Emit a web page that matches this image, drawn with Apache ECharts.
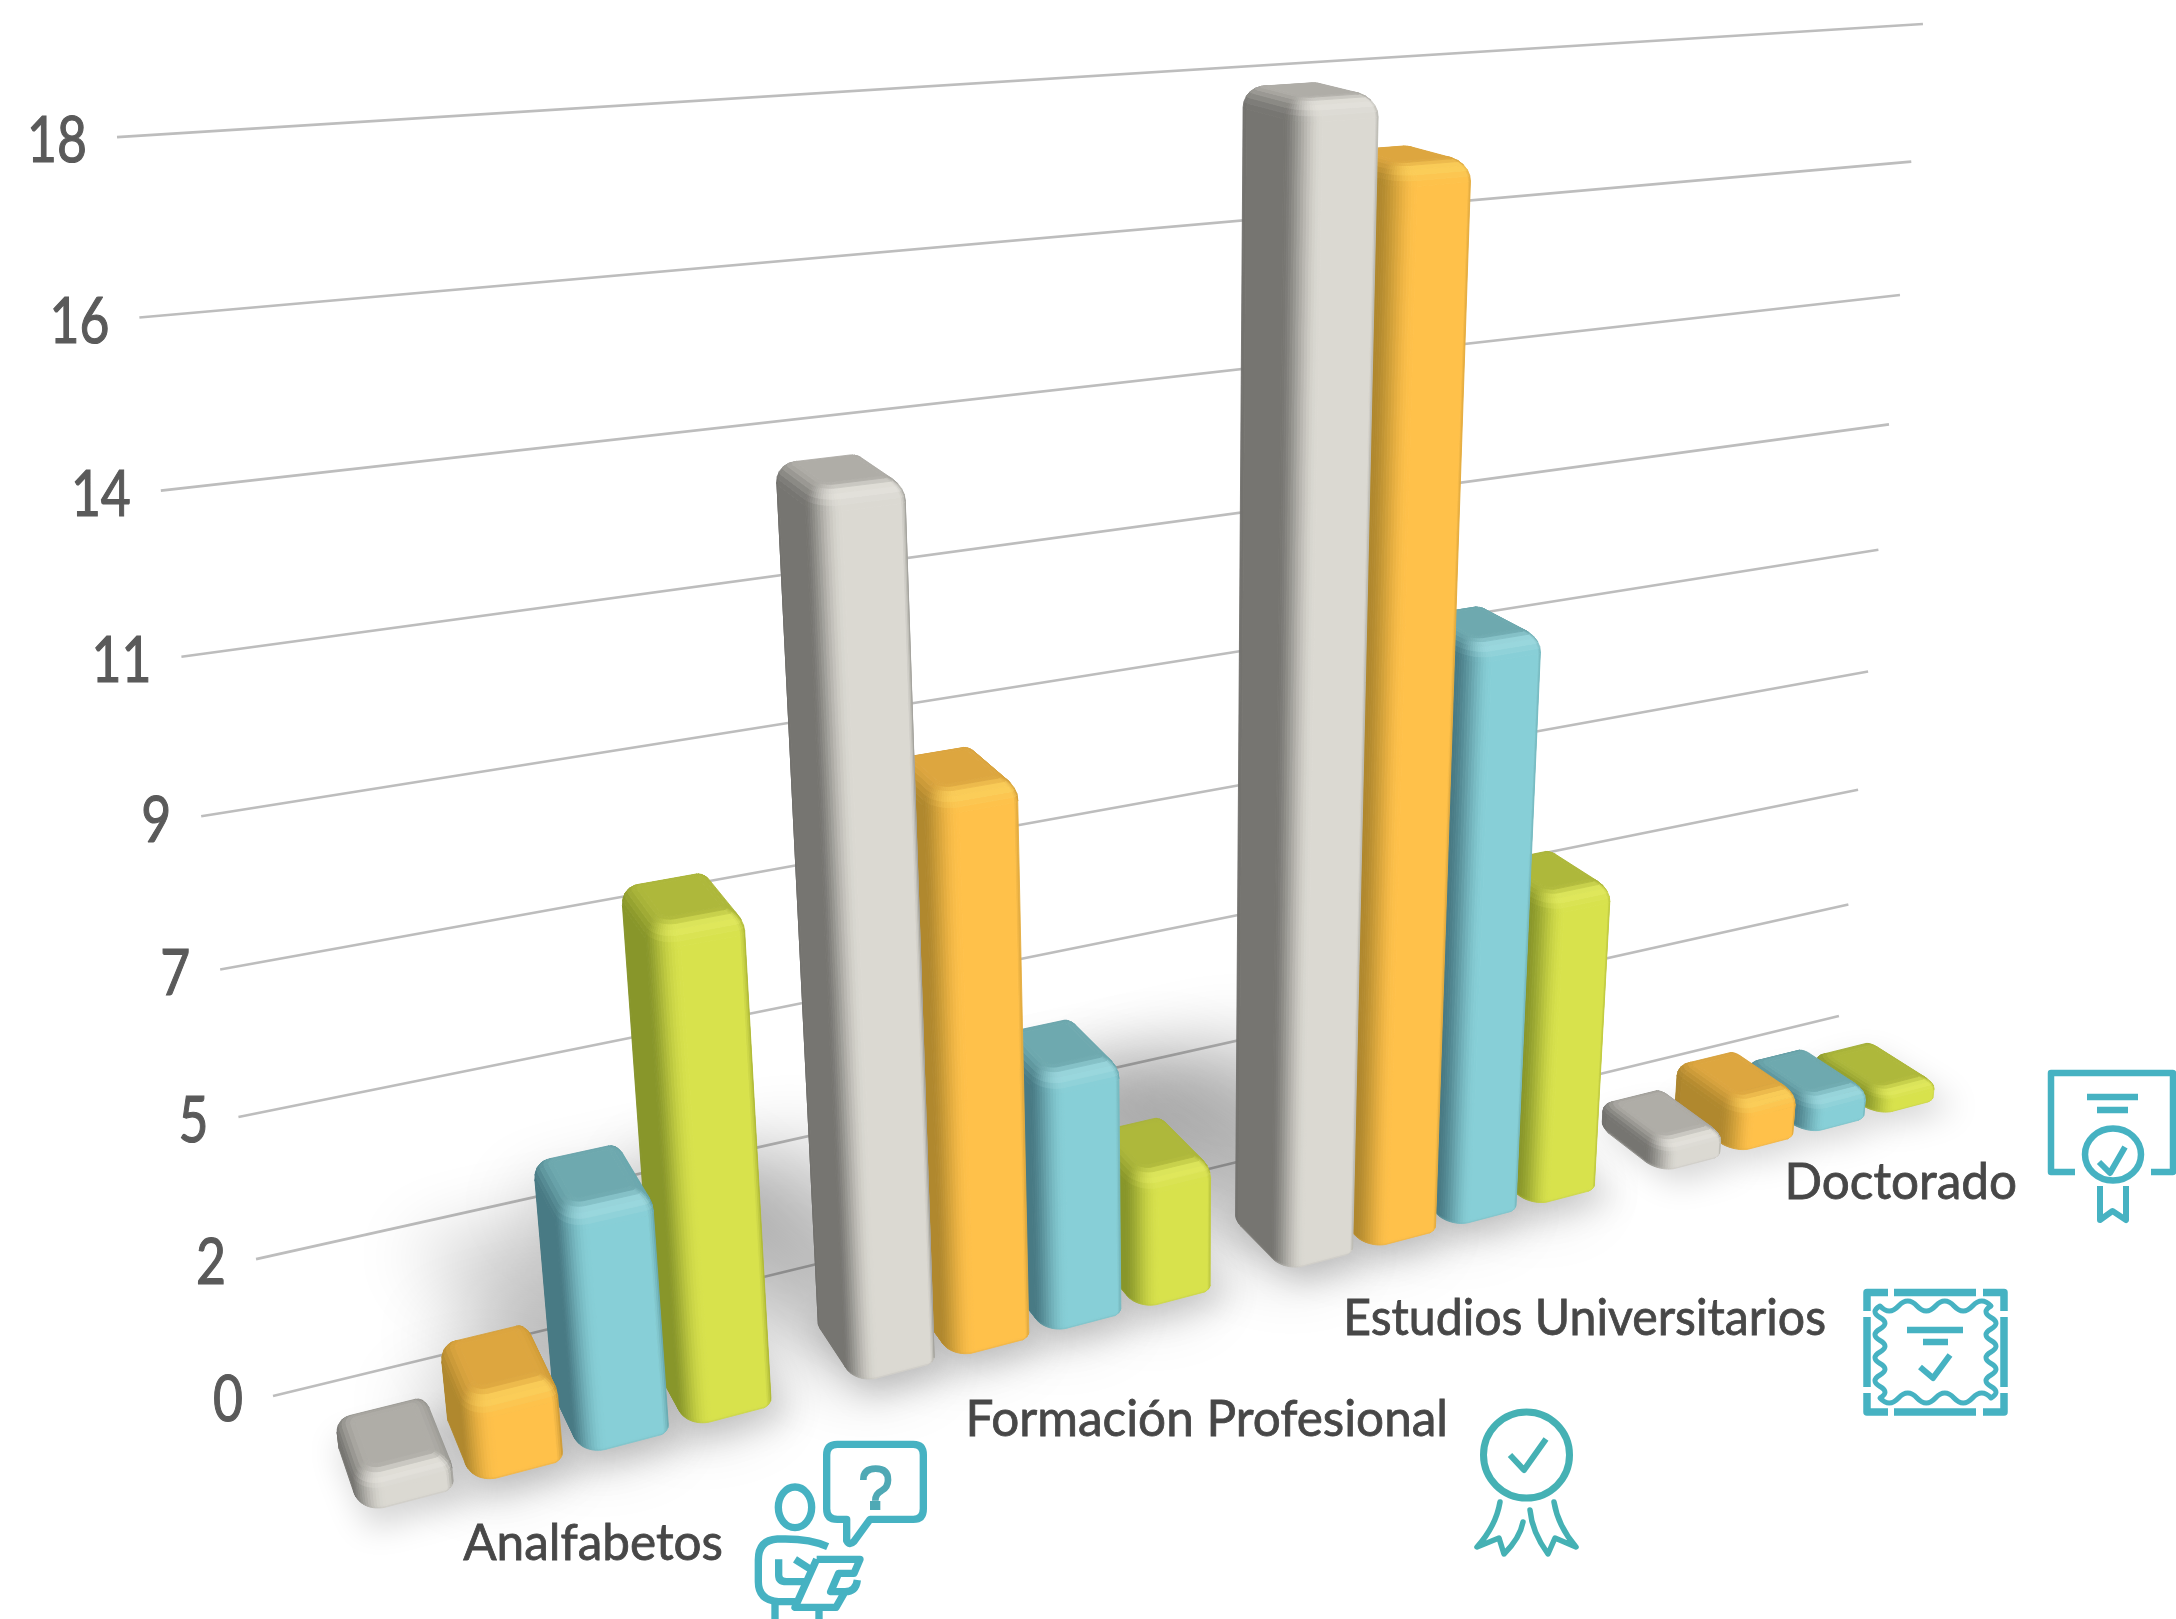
<!DOCTYPE html>
<html>
<head>
<meta charset="utf-8">
<style>html,body{margin:0;padding:0;background:#fff}#c{width:2176px;height:1619px}</style>
<script src="https://cdn.jsdelivr.net/npm/echarts@6/dist/echarts.min.js"></script>
</head>
<body>
<div id="c"></div>
<script>
// ---- data ----
const categories = ['Analfabetos', 'Formación Profesional', 'Estudios Universitarios', 'Doctorado'];
const seriesGrey   = [0.53, 13.65, 18.3, 0.54];
const seriesOrange = [1.34, 9.08, 17.3, 0.96];
const seriesTeal   = [3.9, 4.35, 10.0, 0.66];
const seriesGreen  = [7.85, 2.3, 5.55, 0.43];
const tickValues = [0, 2.29, 4.58, 6.87, 9.16, 11.45, 13.74, 16.03, 18.32];
const tickLabels = ['0', '2', '5', '7', '9', '11', '14', '16', '18'];

// ---- layout and style ----
const W = 2176, H = 1619;
const O = [273, 1396], VX = [7318, -314], VY = [1184, 8749], VZ = [-252, -299];
const KA = 0.2858, KC = -0.14618;
const T0 = 0.0335, T1 = 0.0725;
const BAR_MARGIN = 0.087, BAR_PITCH = 0.2147, BAR_W = 0.182;
const catLabelRight = [723, 1448, 1826, 2017];
const catLabelBase = [1558, 1434, 1333, 1197];
const catLabelScale = [0.97, 0.97, 0.945, 0.97];
const LABEL_FONT = '"Lato"';
const ICON = '#46B2C2';
const palettes = [
  { front: [219, 217, 210], side: [118, 117, 113], top: [175, 173, 167], right: [150, 149, 144], hl: [236, 234, 228] },
  { front: [255, 193, 74],  side: [176, 136, 46],  top: [221, 166, 63],  right: [200, 150, 50],  hl: [255, 214, 96] },
  { front: [135, 207, 215], side: [72, 122, 132],  top: [110, 169, 175], right: [100, 165, 172], hl: [165, 224, 230] },
  { front: [216, 226, 76],  side: [136, 150, 42],  top: [174, 184, 59],  right: [170, 180, 50],  hl: [232, 240, 100] }
];

function proj(u, v, t) {
  const w = 1 + KA * u + KC * v - t;
  return [
    (O[0] + KA * u * VX[0] + KC * v * VY[0] - t * VZ[0]) / w,
    (O[1] + KA * u * VX[1] + KC * v * VY[1] - t * VZ[1]) / w
  ];
}

function area(pts) {
  let s = 0;
  for (let i = 0; i < pts.length; i++) {
    const a = pts[i], b = pts[(i + 1) % pts.length];
    s += a[0] * b[1] - b[0] * a[1];
  }
  return s / 2;
}

function shadeColor(pal, nu, nv, nt) {
  const wF = Math.pow(Math.max(nt, 0), 2), wL = Math.pow(Math.max(-nu, 0), 2);
  const wR = Math.pow(Math.max(nu, 0), 2), wB = Math.pow(Math.max(-nt, 0), 2);
  const wT = nv > 0 ? nv * nv : 0, wD = nv < 0 ? nv * nv : 0;
  const c = [0, 1, 2].map(i =>
    wF * pal.front[i] + wL * pal.side[i] + wR * pal.right[i] + wB * pal.side[i] + wT * pal.top[i] + wD * pal.front[i] * 0.86);
  const h = nt > 0 && nv > 0 ? Math.min(1, 4 * nt * nt * nv * nv) * 0.75 : 0;
  const out = c.map((x, i) => Math.round(x + (pal.hl[i] - x) * h));
  return 'rgb(' + out.join(',') + ')';
}

// corner order: front-right, back-right, back-left, front-left
const CORNER_R = [[0.004, 0.004], [0.004, 0.005], [0.006, 0.006], [0.0125, 0.0095]];
const CORNER_SEG = [4, 4, 5, 14];
function ring(u0, u1, t0, t1, insU, insT, shrink) {
  const a = u0 + insU, b = u1 - insU, c = t0 + insT, d = t1 - insT;
  const pts = [];
  CORNER_R.forEach((r, k) => {
    const ru = r[0] * shrink, rt = r[1] * shrink;
    const ct = [[b - ru, d - rt], [b - ru, c + rt], [a + ru, c + rt], [a + ru, d - rt]][k];
    const seg = CORNER_SEG[k];
    for (let s = 0; s <= seg; s++) {
      const ph = (k + s / seg) * Math.PI / 2;
      const su = Math.sin(ph), co = Math.cos(ph);
      pts.push({ u: ct[0] + ru * su, t: ct[1] + rt * co, nu: su, nt: co });
    }
  });
  return pts;
}

function barShape(u0, u1, top, pal) {
  const bv = Math.min(0.017, top * 0.42);
  const bb = Math.min(0.005, top * 0.2);
  const IU = 0.0085, IT = 0.0075;
  const levels = [];
  levels.push({ f: 0.16, v: 0, th: -0.8 });
  levels.push({ f: 0.04, v: bb * 0.6, th: -0.4 });
  levels.push({ f: 0, v: bb, th: 0 });
  const STEPS = 6;
  for (let i = 0; i <= STEPS; i++) {
    const th = i / STEPS * Math.PI / 2;
    levels.push({ f: 1 - Math.cos(th), v: top - bv + bv * Math.sin(th), th: th });
  }
  const rings = levels.map(l => ring(u0, u1, T0, T1, IU * l.f, IT * l.f, 1 - 0.6 * l.f));
  const children = [];
  for (let L = 0; L < levels.length - 1; L++) {
    const r0 = rings[L], r1 = rings[L + 1], v0 = levels[L].v, v1 = levels[L + 1].v;
    const th = (levels[L].th + levels[L + 1].th) / 2;
    const cs = Math.cos(th), sn = Math.sin(th);
    for (let i = 0; i < r0.length; i++) {
      const j = (i + 1) % r0.length;
      const pts = [proj(r0[i].u, v0, r0[i].t), proj(r0[j].u, v0, r0[j].t), proj(r1[j].u, v1, r1[j].t), proj(r1[i].u, v1, r1[i].t)];
      if (area(pts) >= 0) continue;
      const nu = (r0[i].nu + r0[j].nu) / 2, nt = (r0[i].nt + r0[j].nt) / 2;
      const col = shadeColor(pal, nu * cs, sn, nt * cs);
      children.push({ type: 'polygon', shape: { points: pts }, style: { fill: col, stroke: col, lineWidth: 0.9 } });
    }
  }
  const last = rings[rings.length - 1];
  const capCol = 'rgb(' + pal.top.join(',') + ')';
  children.push({ type: 'polygon', shape: { points: last.map(p => proj(p.u, top, p.t)) }, style: { fill: capCol, stroke: capCol, lineWidth: 0.9 } });
  return children;
}

function barRange(api, seriesIndex) {
  const p = api.coord([api.value(0), api.value(1)]);
  const band = api.size([1, 0])[0] / W;
  const uStart = p[0] / W - band / 2 + band * (BAR_MARGIN + BAR_PITCH * seriesIndex);
  return { u0: uStart, u1: uStart + band * BAR_W, top: 1 - p[1] / H };
}

function barSeries(name, values, seriesIndex) {
  return {
    type: 'custom', name: name, coordinateSystem: 'cartesian2d', silent: true, clip: false,
    z: 10 + (3 - seriesIndex), animation: false,
    encode: { x: 0, y: 1 },
    data: values.map((v, i) => [i, v]),
    renderItem(params, api) {
      const r = barRange(api, seriesIndex);
      return { type: 'group', children: barShape(r.u0, r.u1, r.top, palettes[seriesIndex]) };
    }
  };
}

function shadowSeries(values, seriesIndex) {
  const OFF = 4000;
  return {
    type: 'custom', coordinateSystem: 'cartesian2d', silent: true, clip: false, z: 3, animation: false,
    encode: { x: 0, y: 1 },
    data: values.map((v, i) => [i, v]),
    renderItem(params, api) {
      const r = barRange(api, seriesIndex);
      const val = api.value(1);
      const L = Math.min(0.12, val * 0.012), back = T0 - Math.min(0.12, val * 0.013);
      const wide = [[r.u0 - L, back], [r.u1 - L * 0.3, back], [r.u1, T1], [r.u0, T1]];
      const near = [[r.u0, T0], [r.u1 + 0.004, T0], [r.u1 + 0.006, T1 + 0.007], [r.u0 + 0.002, T1 + 0.007]];
      const mk = (poly, blur, alpha) => ({
        type: 'polygon',
        shape: { points: poly.map(q => { const s = proj(q[0], 0, q[1]); return [s[0] - OFF, s[1]]; }) },
        style: { fill: '#000', shadowBlur: blur, shadowColor: 'rgba(0,0,0,' + alpha + ')', shadowOffsetX: OFF, shadowOffsetY: 0 }
      });
      const kids = [mk(near, 32, 0.17)];
      if (val > 1) kids.unshift(mk(wide, 70, 0.2));
      return { type: 'group', children: kids };
    }
  };
}

function wave(x0, y0, x1, y1, n, amp) {
  let d = '';
  const nx = -(y1 - y0), ny = x1 - x0, len = Math.hypot(nx, ny);
  for (let i = 0; i < n; i++) {
    const ax = x0 + (x1 - x0) * (i + 0.5) / n, ay = y0 + (y1 - y0) * (i + 0.5) / n;
    const bx = x0 + (x1 - x0) * (i + 1) / n, by = y0 + (y1 - y0) * (i + 1) / n;
    const s = (i % 2 ? -1 : 1) * amp;
    d += ' Q' + (ax + nx / len * s) + ' ' + (ay + ny / len * s) + ' ' + bx + ' ' + by;
  }
  return d;
}

const stroke = (d, lw, col) => ({ type: 'path', shape: { pathData: d }, style: { fill: 'none', stroke: col || ICON, lineWidth: lw, lineJoin: 'round', lineCap: 'butt' } });

function iconChildren() {
  const reader = {
    type: 'group', x: 700, y: 1400, scaleX: 1 / 3, scaleY: 1 / 3,
    children: [
      stroke('M440 358 L412 358 Q380 358 380 326 L380 165 Q380 133 412 133 L640 133 Q670 133 670 165 L670 326 Q670 358 640 358 L510 358 L462 424 Q448 438 440 422 Z', 22),
      { type: 'ellipse', shape: { cx: 285, cy: 322, rx: 50, ry: 61 }, style: { fill: 'none', stroke: ICON, lineWidth: 22 } },
      stroke('M383 440 Q330 416 250 417 L232 417 Q175 420 175 480 L175 545 Q175 600 235 605 L298 605', 22),
      stroke('M225 605 L225 657 M357 628 L357 657', 22),
      stroke('M236 478 L236 525 Q236 545 260 545 L318 545 M285 478 L335 510', 22),
      stroke('M350 478 L480 478 L462 520 L416 520 L392 575 L435 575 Q468 575 472 540 M350 478 L285 622 L408 622 L435 575', 22),
      stroke('M490 240 Q490 206 527 206 Q564 206 564 240 Q564 262 545 272 Q526 281 526 302', 20, '#4FA9B5'),
      { type: 'rect', shape: { x: 510, y: 303, width: 31, height: 27 }, style: { fill: '#4FA9B5' } }
    ]
  };
  const diploma = [
    stroke('M2075 1172 L2051 1172 L2051 1073 L2173 1073 L2173 1172 L2151 1172', 6.5),
    stroke('M2087 1097 L2138 1097 M2097 1110 L2128 1110', 6.5),
    { type: 'ellipse', shape: { cx: 2113, cy: 1154.5, rx: 28, ry: 26 }, style: { fill: 'none', stroke: ICON, lineWidth: 6.5 } },
    stroke('M2099 1162 L2110 1173 L2125 1147', 6),
    stroke('M2100 1186 L2100 1220 L2112.5 1211 L2126 1220 L2126 1186', 6)
  ];
  const framePath =
    'M1867 1311 L1867 1292.5 L1888 1292.5 M1894 1292.5 L1976 1292.5 M1983 1292.5 L2004 1292.5 L2004 1311 ' +
    'M2004 1317 L2004 1387 M2004 1393 L2004 1412 L1983 1412 M1976 1412 L1894 1412 M1888 1412 L1867 1412 L1867 1393 M1867 1387 L1867 1317';
  const wavy = 'M1880 1306' + wave(1880, 1306, 1991, 1306, 6, 10) + wave(1991, 1306, 1991, 1398, 8, 10) + wave(1991, 1398, 1880, 1398, 6, 10) + wave(1880, 1398, 1880, 1306, 8, 10) + ' Z';
  const cert = [
    stroke(framePath, 7.5),
    stroke(wavy, 5),
    stroke('M1907 1330 L1963 1330 M1923 1342 L1948 1342', 6.5),
    stroke('M1920 1367 L1933 1378 L1950 1355', 6)
  ];
  const rosette = [
    { type: 'ellipse', shape: { cx: 1526.5, cy: 1455, rx: 43, ry: 43 }, style: { fill: 'none', stroke: '#45B1B4', lineWidth: 7 } },
    stroke('M1510 1455 L1524 1470 L1546 1439', 6, '#45B1B4'),
    { type: 'path', shape: { pathData: 'M1500 1502 Q1496 1526 1477 1547 L1499 1538 L1504 1554 Q1520 1538 1523 1522 M1554 1502 Q1558 1526 1576 1547 L1555 1538 L1548 1554 Q1532 1532 1530 1510' }, style: { fill: 'none', stroke: '#45B1B4', lineWidth: 5.5, lineJoin: 'round', lineCap: 'round' } }
  ];
  return [reader].concat(diploma, cert, rosette);
}

const chart = echarts.init(document.getElementById('c'), null, { width: W, height: H, renderer: 'canvas' });
chart.setOption({
  backgroundColor: '#ffffff',
  animation: false,
  grid: { left: 0, top: 0, width: W, height: H, containLabel: false },
  xAxis: { type: 'category', data: categories, show: false },
  yAxis: { type: 'value', min: 0, max: 18.32, interval: 2.29, show: false },
  series: [
    {
      type: 'custom', name: 'grid', coordinateSystem: 'cartesian2d', silent: true, clip: false, z: 2, animation: false,
      encode: { x: 0, y: 1 },
      data: tickValues.map(v => [0, v]),
      renderItem(params, api) {
        const v = 1 - api.coord([0, api.value(1)])[1] / H;
        const a = proj(0, v, 0), b = proj(1, v, 0);
        return {
          type: 'group', children: [
            { type: 'line', shape: { x1: a[0], y1: a[1], x2: b[0], y2: b[1] }, style: { stroke: '#BDBDBD', lineWidth: 2.6 } },
            { type: 'text', x: a[0] - 30, y: a[1] + 5, scaleX: 0.82, style: { x: 0, y: 0, text: tickLabels[params.dataIndex], font: '400 63px ' + LABEL_FONT, fill: '#5A5A5A', stroke: '#5A5A5A', lineWidth: 1.2, textAlign: 'right', textVerticalAlign: 'middle' } }
          ]
        };
      }
    },
    shadowSeries(seriesGrey, 0), shadowSeries(seriesOrange, 1), shadowSeries(seriesTeal, 2), shadowSeries(seriesGreen, 3),
    barSeries('Gris', seriesGrey, 0),
    barSeries('Naranja', seriesOrange, 1),
    barSeries('Azul', seriesTeal, 2),
    barSeries('Verde', seriesGreen, 3),
    {
      type: 'custom', name: 'labels', coordinateSystem: 'none', silent: true, z: 20, animation: false,
      data: categories.map((c, i) => [i]),
      renderItem(params) {
        const i = params.dataIndex;
        return { type: 'text', x: catLabelRight[i], y: catLabelBase[i] + 11, scaleX: catLabelScale[i], style: { x: 0, y: 0, text: categories[i], font: '400 51px ' + LABEL_FONT, fill: '#474747', stroke: '#474747', lineWidth: 0.8, textAlign: 'right', textVerticalAlign: 'bottom' } };
      }
    },
    {
      type: 'custom', name: 'icons', coordinateSystem: 'none', silent: true, z: 21, animation: false,
      data: [[0]],
      renderItem() { return { type: 'group', children: iconChildren() }; }
    }
  ]
});
</script>
</body>
</html>
